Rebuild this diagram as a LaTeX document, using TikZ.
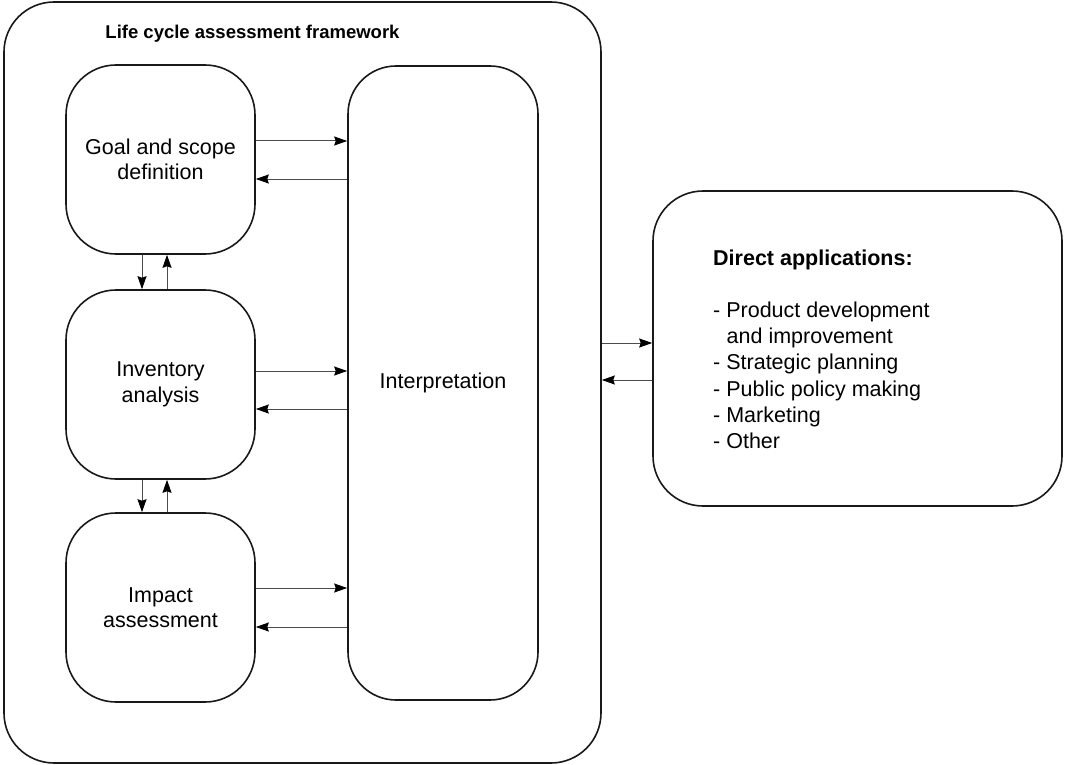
\documentclass[tikz,border=0pt]{standalone}
\usepackage{fontspec}
\setmainfont{Liberation Sans}
\usetikzlibrary{arrows.meta}
\begin{document}
\begin{tikzpicture}[x=1pt,y=-1pt,
  box/.style={draw=black!90,line width=1.6pt,rounded corners=50pt,inner sep=0pt,
    align=center,font=\fontsize{21.5}{25.5}\selectfont},
  stagebox/.style={box,minimum width=189pt,minimum height=189pt},
  arr/.style={draw=black!70,line width=1pt,-{Stealth[length=13pt,width=9pt,inset=1.5pt,color=black,fill=black]}},
  txt/.style={inner sep=0pt,font=\fontsize{21.5}{26.2}\selectfont}]
\useasboundingbox (0,0) rectangle (1065,765);
\node[box,minimum width=597pt,minimum height=761pt] (outer) at (302.5,382.5) {};
\node[txt,anchor=base,font=\fontsize{18.5}{22}\selectfont\bfseries] (title) at (252.5,39) {Life cycle assessment framework};
\node[stagebox] (goal) at (160.5,159.5) {Goal and scope\\definition};
\node[stagebox] (inv) at (160.5,384.5) {Inventory\\analysis};
\node[stagebox] (imp) at (160.5,607.5) {Impact\\assessment};
\node[box,rounded corners=48pt,minimum width=190pt,minimum height=634pt] (interp) at (443,383) {Interpretation};
\node[box,minimum width=409pt,minimum height=315pt] (apps) at (857.5,348.5) {};
\node[txt,anchor=base west,align=left] (appstext) at (713,448.4) {\textbf{Direct applications:}\\[26.2pt]
- Product development\\
\hspace{13.5pt}and improvement\\
- Strategic planning\\
- Public policy making\\
- Marketing\\
- Other};
% stage <-> interpretation
\draw[arr] ([yshift=18.5pt]goal.east) -- ([yshift=18.5pt]goal.east -| interp.west);
\draw[arr] ([yshift=-19.5pt]goal.east -| interp.west) -- ([yshift=-19.5pt]goal.east);
\draw[arr] ([yshift=13.5pt]inv.east) -- ([yshift=13.5pt]inv.east -| interp.west);
\draw[arr] ([yshift=-24.5pt]inv.east -| interp.west) -- ([yshift=-24.5pt]inv.east);
\draw[arr] ([yshift=19.5pt]imp.east) -- ([yshift=19.5pt]imp.east -| interp.west);
\draw[arr] ([yshift=-19.5pt]imp.east -| interp.west) -- ([yshift=-19.5pt]imp.east);
% vertical stage links
\draw[arr] ([xshift=-18.5pt]goal.south) -- ([xshift=-18.5pt]goal.south |- inv.north);
\draw[arr] ([xshift=6.5pt]goal.south |- inv.north) -- ([xshift=6.5pt]goal.south);
\draw[arr] ([xshift=-18.5pt]inv.south) -- ([xshift=-18.5pt]inv.south |- imp.north);
\draw[arr] ([xshift=6.5pt]inv.south |- imp.north) -- ([xshift=6.5pt]inv.south);
% framework <-> applications
\draw[arr] ([yshift=5.5pt]apps.west -| outer.east) -- ([yshift=5.5pt]apps.west);
\draw[arr] ([yshift=-31.5pt]apps.west) -- ([yshift=-31.5pt]apps.west -| outer.east);
\end{tikzpicture}
\end{document}
